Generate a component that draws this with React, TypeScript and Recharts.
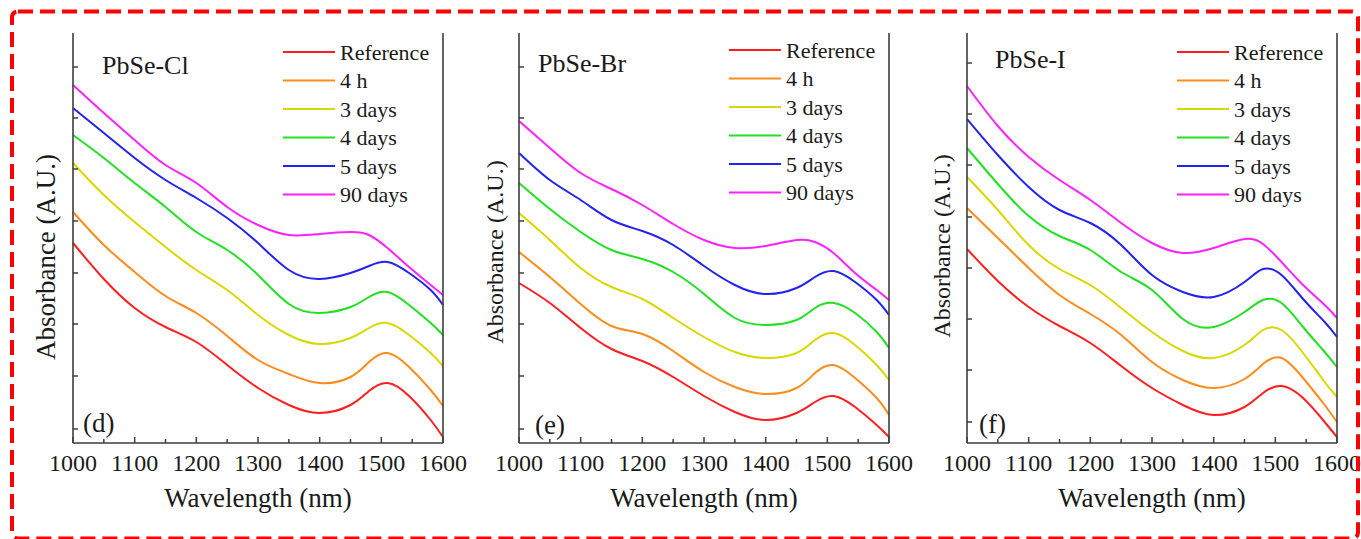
import React from "react";
import { LineChart, Line, XAxis, YAxis, Legend } from "recharts";

// wavelength grid (nm) shared by all panels
const wavelengths = [1000, 1050, 1100, 1150, 1200, 1250, 1300, 1350, 1400, 1450, 1480, 1510, 1545, 1580, 1600];
const xTicks = [1000, 1050, 1100, 1150, 1200, 1250, 1300, 1350, 1400, 1450, 1500, 1550, 1600];

const seriesNames = ["Reference", "4 h", "3 days", "4 days", "5 days", "90 days"];
const seriesKeys = ["ref", "h4", "d3", "d4", "d5", "d90"];
const seriesColors = ["#ff1f1f", "#ff8c1a", "#d8d800", "#22e022", "#2323f0", "#ff22ff"];

// absorbance (A.U., stacked) for PbSe-Cl
const clCurves = [
  [2.0, 1.64, 1.35, 1.16, 1.01, 0.78, 0.55, 0.38, 0.3, 0.38, 0.52, 0.6, 0.47, 0.23, 0.06],
  [2.31, 1.98, 1.71, 1.47, 1.3, 1.07, 0.83, 0.69, 0.6, 0.66, 0.81, 0.9, 0.76, 0.53, 0.37],
  [2.8, 2.48, 2.21, 1.96, 1.73, 1.53, 1.28, 1.08, 0.99, 1.05, 1.15, 1.2, 1.08, 0.9, 0.77],
  [3.08, 2.85, 2.6, 2.36, 2.11, 1.93, 1.68, 1.39, 1.3, 1.36, 1.46, 1.51, 1.38, 1.2, 1.08],
  [3.35, 3.1, 2.85, 2.63, 2.45, 2.25, 2.0, 1.73, 1.64, 1.7, 1.77, 1.81, 1.7, 1.53, 1.38],
  [3.58, 3.3, 3.03, 2.78, 2.6, 2.36, 2.18, 2.08, 2.09, 2.11, 2.08, 1.95, 1.76, 1.58, 1.48],
];

// PbSe-Br
const brCurves = [
  [1.6, 1.4, 1.15, 0.94, 0.82, 0.66, 0.47, 0.31, 0.23, 0.3, 0.41, 0.47, 0.36, 0.18, 0.06],
  [1.91, 1.66, 1.39, 1.17, 1.09, 0.92, 0.71, 0.56, 0.49, 0.55, 0.7, 0.78, 0.65, 0.45, 0.28],
  [2.3, 2.03, 1.75, 1.56, 1.44, 1.25, 1.06, 0.91, 0.85, 0.9, 1.03, 1.1, 0.98, 0.78, 0.63],
  [2.6, 2.34, 2.11, 1.93, 1.84, 1.71, 1.49, 1.25, 1.18, 1.23, 1.35, 1.4, 1.3, 1.11, 0.95],
  [2.9, 2.63, 2.43, 2.23, 2.12, 1.98, 1.77, 1.58, 1.49, 1.55, 1.66, 1.72, 1.61, 1.43, 1.28],
  [3.22, 2.95, 2.7, 2.54, 2.38, 2.19, 2.03, 1.95, 1.97, 2.03, 2.01, 1.9, 1.7, 1.53, 1.43],
];

// PbSe-I
const iCurves = [
  [1.94, 1.62, 1.36, 1.17, 1.0, 0.77, 0.55, 0.38, 0.28, 0.36, 0.5, 0.57, 0.45, 0.21, 0.06],
  [2.35, 2.05, 1.75, 1.48, 1.29, 1.08, 0.81, 0.63, 0.55, 0.64, 0.79, 0.85, 0.65, 0.38, 0.21],
  [2.66, 2.33, 1.98, 1.74, 1.58, 1.35, 1.11, 0.92, 0.85, 0.98, 1.13, 1.13, 0.9, 0.61, 0.46],
  [2.95, 2.59, 2.27, 2.07, 1.93, 1.71, 1.53, 1.24, 1.16, 1.31, 1.43, 1.4, 1.16, 0.91, 0.76],
  [3.24, 2.88, 2.56, 2.33, 2.2, 1.98, 1.68, 1.51, 1.46, 1.61, 1.74, 1.68, 1.44, 1.21, 1.06],
  [3.57, 3.17, 2.86, 2.63, 2.43, 2.2, 2.0, 1.9, 1.95, 2.04, 1.99, 1.81, 1.58, 1.38, 1.25],
];

const yTicksDE = [0.14, 0.67, 1.19, 1.7, 2.22, 2.74, 3.25, 3.76];
const yTicksF = [0.21, 0.73, 1.24, 1.75, 2.26, 2.78, 3.29, 3.8];

const FONT = "'Liberation Serif', 'Times New Roman', serif";
const AXIS = "#3e3e3e";
const TEXT = "#1a1a1a";

const panels = [
  { name: "PbSe-Cl", letter: "(d)", left: 73, curves: clCurves, yTicks: yTicksDE, titleDx: 29, titleY: 74, letterDx: 10, letterY: 432, yTitleDx: -18, yTitleY: 257, yTitleSize: 27, legendTop: 52 },
  { name: "PbSe-Br", letter: "(e)", left: 519, curves: brCurves, yTicks: yTicksDE, titleDx: 19, titleY: 72, letterDx: 16, letterY: 434, yTitleDx: -16, yTitleY: 252, yTitleSize: 24, legendTop: 50 },
  { name: "PbSe-I", letter: "(f)", left: 967, curves: iCurves, yTicks: yTicksF, titleDx: 28, titleY: 68, letterDx: 12, letterY: 433, yTitleDx: -17, yTitleY: 246, yTitleSize: 24, legendTop: 52 },
];

const BottomTick = (p: any) => {
  const v = p.payload.value;
  const major = v % 100 === 0;
  return (
    <g>
      <line x1={p.x} x2={p.x} y1={p.y} y2={p.y - (major ? 6 : 4)} stroke={AXIS} strokeWidth={1.5} />
      {major && (
        <text x={p.x} y={p.y + 28} textAnchor="middle" fontSize={24} style={{ fontFamily: FONT }} fill={TEXT}>
          {v}
        </text>
      )}
    </g>
  );
};

const TopTick = (p: any) => {
  const major = p.payload.value % 100 === 0;
  return <line x1={p.x} x2={p.x} y1={p.y} y2={p.y + (major ? 6 : 4)} stroke={AXIS} strokeWidth={1.5} />;
};

const LeftTick = (p: any) => <line x1={p.x} x2={p.x + 5} y1={p.y} y2={p.y} stroke={AXIS} strokeWidth={1.5} />;
const RightTick = (p: any) => <line x1={p.x} x2={p.x - 5} y1={p.y} y2={p.y} stroke={AXIS} strokeWidth={1.5} />;

const XTitle = (p: any) => {
  const vb = p.viewBox;
  return (
    <text x={vb.x + vb.width / 2} y={vb.y + 64} textAnchor="middle" fontSize={27} style={{ fontFamily: FONT }} fill={TEXT}>
      Wavelength (nm)
    </text>
  );
};

const YTitle = (p: any) => {
  const vb = p.viewBox;
  const x = vb.x + vb.width + p.dx;
  const y = p.cy;
  return (
    <text x={x} y={y} transform={`rotate(-90 ${x} ${y})`} textAnchor="middle" fontSize={p.size} style={{ fontFamily: FONT }} fill={TEXT}>
      Absorbance (A.U.)
    </text>
  );
};

const LegendBox = (props: any) => {
  const items = [...(props.payload || [])].sort(
    (a: any, b: any) => seriesNames.indexOf(a.value) - seriesNames.indexOf(b.value)
  );
  return (
    <svg width={180} height={180} style={{ display: "block" }}>
      {items.map((it: any, i: number) => {
        const cy = 12 + i * 28.5;
        return (
          <g key={it.value}>
            <line x1={0} x2={52} y1={cy} y2={cy} stroke={it.color} strokeWidth={2} />
            <text x={57} y={cy + 7.5} fontSize={22} style={{ fontFamily: FONT }} fill={TEXT}>
              {it.value}
            </text>
          </g>
        );
      })}
    </svg>
  );
};

function Panel({ cfg }: { cfg: any }) {
  const data = wavelengths.map((w, i) => {
    const row: any = { w };
    seriesKeys.forEach((k, j) => {
      row[k] = cfg.curves[j][i];
    });
    return row;
  });
  const axisLine = { stroke: AXIS, strokeWidth: 1.6 };
  return (
    <div style={{ position: "absolute", left: cfg.left - 60, top: 0 }}>
      <LineChart width={500} height={539} data={data} margin={{ top: 33, right: 50, bottom: 0, left: 0 }}>
        <XAxis
          dataKey="w"
          type="number"
          domain={[1000, 1600]}
          ticks={xTicks}
          interval={0}
          height={96}
          tickSize={0}
          tickMargin={0}
          tickLine={false}
          axisLine={axisLine}
          tick={(p: any) => <BottomTick {...p} />}
          label={<XTitle />}
        />
        <XAxis
          xAxisId="top"
          orientation="top"
          dataKey="w"
          type="number"
          domain={[1000, 1600]}
          ticks={xTicks}
          interval={0}
          height={0}
          tickSize={0}
          tickMargin={0}
          tickLine={false}
          axisLine={axisLine}
          tick={(p: any) => <TopTick {...p} />}
        />
        <YAxis
          type="number"
          domain={[0, 4.1]}
          ticks={cfg.yTicks}
          interval={0}
          width={60}
          tickSize={0}
          tickMargin={0}
          tickLine={false}
          axisLine={axisLine}
          tick={(p: any) => <LeftTick {...p} />}
          label={<YTitle dx={cfg.yTitleDx} cy={cfg.yTitleY} size={cfg.yTitleSize} />}
        />
        <YAxis
          yAxisId="right"
          orientation="right"
          type="number"
          domain={[0, 4.1]}
          ticks={cfg.yTicks}
          interval={0}
          width={20}
          tickSize={0}
          tickMargin={0}
          tickLine={false}
          axisLine={axisLine}
          tick={(p: any) => <RightTick {...p} />}
        />
        <Legend
          layout="vertical"
          align="center"
          verticalAlign="middle"
          content={(p: any) => <LegendBox {...p} />}
          wrapperStyle={{ left: 270, top: cfg.legendTop - 12, width: 180, height: 180 }}
        />
        {seriesKeys.map((k, j) => (
          <Line
            key={k}
            dataKey={k}
            name={seriesNames[j]}
            type="natural"
            stroke={seriesColors[j]}
            strokeWidth={2}
            dot={false}
            isAnimationActive={false}
          />
        ))}
      </LineChart>
      <svg width={500} height={539} style={{ position: "absolute", left: 0, top: 0, pointerEvents: "none" }}>
        <text x={60 + cfg.titleDx} y={cfg.titleY} fontSize={26} style={{ fontFamily: FONT }} fill={TEXT}>
          {cfg.name}
        </text>
        <text x={60 + cfg.letterDx} y={cfg.letterY} fontSize={27} style={{ fontFamily: FONT }} fill={TEXT}>
          {cfg.letter}
        </text>
      </svg>
    </div>
  );
}

export default function App() {
  return (
    <div style={{ position: "absolute", left: 0, top: 0, width: 1361, height: 539, background: "#ffffff", overflow: "hidden" }}>
      {panels.map((cfg) => (
        <Panel key={cfg.name} cfg={cfg} />
      ))}
      <svg width={1361} height={539} style={{ position: "absolute", left: 0, top: 0, pointerEvents: "none" }}>
        <rect x={12} y={11.5} width={1346} height={527} rx={6} fill="none" stroke="#ff0000" strokeWidth={4} strokeDasharray="15 7" />
      </svg>
    </div>
  );
}
